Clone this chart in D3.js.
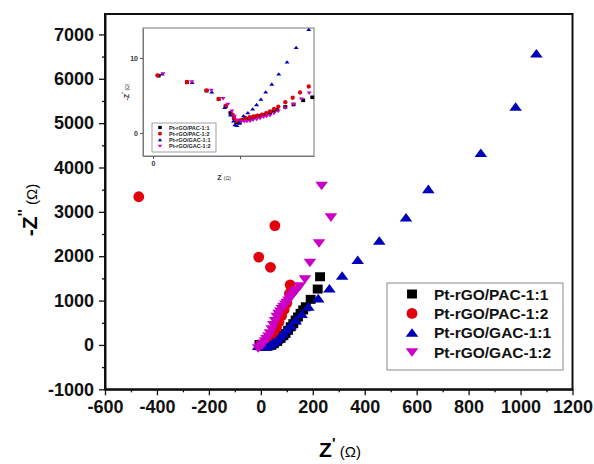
<!DOCTYPE html>
<html>
<head>
<meta charset="utf-8">
<script src="https://d3js.org/d3.v7.min.js"></script>
<style>
  body { margin: 0; background: #fff; }
  text { font-family: "Liberation Sans", Arial, sans-serif; }
</style>
</head>
<body>
<div id="chart"></div>
<script>
// ---- data (main plot, Z' / -Z'' in ohm) ----
var seriesNames = ["Pt-rGO/PAC-1:1", "Pt-rGO/PAC-1:2", "Pt-rGO/GAC-1:1", "Pt-rGO/GAC-1:2"];
var seriesColors = ["#000000", "#e2000c", "#0000b8", "#cc00c4"];
var seriesShapes = ["square", "circle", "up", "down"];

var pac11 = [[-5,10],[10,-20],[25,-30],[40,-10],[50,30],[63,80],[76,147],[87,210],[95,260],[105,330],[115,409],[125,480],[134,560],[143,630],[153,712],[163,790],[173,861],[192,1028],[219,1260],[228,1537]];
var pac12 = [[0,-10],[10,10],[20,50],[30,110],[40,190],[50,290],[60,400],[70,520],[80,660],[90,800],[100,940],[110,1160],[113,1355],[37,1750],[-8,1980],[54,2690],[-470,3340]];
var gac11 = [[-10,-20],[0,-30],[12,-40],[25,-30],[38,10],[50,60],[63,120],[75,190],[87,260],[100,350],[115,440],[134,560],[157,696],[183,861],[221,1050],[264,1275],[313,1560],[373,1913],[456,2348],[559,2875],[645,3513],[847,4328],[981,5368],[1061,6572]];
var gac12 = [[-10,-77],[-3,-40],[5,0],[10,30],[16,80],[22,130],[29,190],[35,261],[42,350],[48,450],[55,540],[61,636],[68,700],[75,750],[81,810],[87,861],[94,910],[100,950],[106,1000],[112,1050],[118,1100],[125,1140],[131,1190],[138,1237],[150,1320],[170,1478],[189,1853],[224,2290],[270,2875],[234,3588]];
var mainData = [pac11, pac12, gac11, gac12];

var xTicks = [-600, -400, -200, 0, 200, 400, 600, 800, 1000, 1200];
var yTicks = [-1000, 0, 1000, 2000, 3000, 4000, 5000, 6000, 7000];

// ---- data (inset, zoomed high-frequency region) ----
var inPac11 = [[1.3,7.64],[7.8,6.76],[12.3,5.64],[15.1,4.53],[16.7,3.56],[17.8,2.67],[18.6,2.0],[19.2,1.4],[20.0,1.5],[20.8,1.78],[21.5,1.9],[22.3,2.0],[23.1,2.1],[23.8,2.22],[24.6,2.3],[25.4,2.44],[26.2,2.6],[26.9,2.76],[27.7,2.9],[28.5,3.1],[30.4,3.47],[32.3,3.8],[34.5,4.36],[36.6,4.76]];
var inPac12 = [[1.0,7.69],[7.8,6.8],[12.3,5.69],[15.1,4.53],[16.7,3.6],[18.3,2.44],[18.6,2.0],[19.2,1.6],[20.2,1.7],[21.2,2.0],[22.2,2.1],[23.1,2.22],[24.0,2.3],[25.0,2.44],[26.0,2.65],[26.9,2.89],[27.8,3.2],[28.8,3.5],[30.4,4.1],[32.1,4.7],[33.8,5.4],[35.8,6.2]];
var inGac11 = [[2.15,7.87],[9.0,6.76],[13.5,5.47],[16.5,3.4],[17.8,2.4],[18.5,1.6],[18.8,1.1],[19.3,1.0],[19.9,1.3],[20.8,2.3],[21.8,2.7],[22.9,3.2],[23.8,3.78],[24.8,4.5],[25.9,5.47],[27.3,6.53],[28.9,7.87],[30.8,9.47],[32.9,11.4],[35.8,13.8]];
var inGac12 = [[2.3,7.87],[8.9,6.8],[13.4,5.69],[16.1,4.58],[17.2,3.8],[18.1,2.9],[18.7,2.2],[19.4,1.7],[20.2,1.5],[21.0,1.5],[21.6,1.55],[22.3,1.56],[23.0,1.7],[23.8,1.8],[24.6,1.95],[25.4,2.1],[26.1,2.2],[26.9,2.3],[27.8,2.6],[28.8,2.9],[30.4,3.33],[32.3,3.8],[34.1,4.5],[35.9,5.3]];
var insetData = [inPac11, inPac12, inGac11, inGac12];
var inXTicks = [0, 20];
var inYTicks = [0, 10];

// ---- layout ----
var W = 594, H = 464;
var pL = 105, pR = 572.5, pT = 14, pB = 389.3;

var svg = d3.select("#chart").append("svg")
  .attr("width", W).attr("height", H);

var x = d3.scaleLinear().domain([-600, 1200]).range([pL, pR]);
var y = d3.scaleLinear().domain([-1000, 7460]).range([pB, pT]);

// marker path, centred on 0,0
function marker(shape, s) {
  if (shape == "square") return "M" + (-s*0.55) + "," + (-s*0.5) + "h" + (s*1.1) + "v" + s + "h" + (-s*1.1) + "Z";
  if (shape == "circle") return d3.symbol(d3.symbolCircle, Math.PI * Math.pow(s*0.6, 2))();
  if (shape == "up") return "M0," + (-s*0.5) + "L" + (s*0.7) + "," + (s*0.45) + "L" + (-s*0.7) + "," + (s*0.45) + "Z";
  return "M0," + (s*0.5) + "L" + (s*0.7) + "," + (-s*0.45) + "L" + (-s*0.7) + "," + (-s*0.45) + "Z";
}

var plain = function (d) { return String(d); };

// axes
svg.append("g")
  .attr("class", "main-axis")
  .attr("transform", "translate(0," + pB + ")")
  .call(d3.axisBottom(x).tickValues(xTicks).tickSize(6).tickSizeOuter(0).tickPadding(5).tickFormat(plain));
svg.append("g")
  .attr("transform", "translate(0," + pB + ")")
  .call(d3.axisBottom(x).tickValues(d3.range(-500, 1200, 200)).tickSize(3).tickFormat(""))
  .select(".domain").remove();

svg.append("g")
  .attr("class", "main-axis")
  .attr("transform", "translate(" + pL + ",0)")
  .call(d3.axisLeft(y).tickValues(yTicks).tickSize(6).tickSizeOuter(0).tickPadding(5).tickFormat(plain));
svg.append("g")
  .attr("transform", "translate(" + pL + ",0)")
  .call(d3.axisLeft(y).tickValues(d3.range(-500, 7100, 1000)).tickSize(3).tickFormat(""))
  .select(".domain").remove();

svg.selectAll(".main-axis .tick text")
  .style("font-size", "18px").style("font-weight", "bold").attr("fill", "#111");
svg.selectAll(".tick line").attr("stroke", "#111").attr("stroke-width", 1.3);

// frame
svg.append("rect")
  .attr("x", pL).attr("y", pT)
  .attr("width", pR - pL).attr("height", pB - pT)
  .attr("fill", "none").attr("stroke", "#111").attr("stroke-width", 2);
svg.selectAll(".main-axis .domain").attr("stroke", "#111").attr("stroke-width", 2);

// axis titles
var xl = svg.append("text").attr("x", 340).attr("y", 457).attr("text-anchor", "middle");
xl.append("tspan").text("Z").style("font-size", "21px").style("font-weight", "bold");
xl.append("tspan").text("'").attr("dy", -9).style("font-size", "15px").style("font-weight", "bold");
xl.append("tspan").text(" (Ω)").attr("dy", 9).style("font-size", "15px");

var yl = svg.append("text").attr("transform", "translate(37,210) rotate(-90)").attr("text-anchor", "middle");
yl.append("tspan").text("-Z").style("font-size", "21px").style("font-weight", "bold");
yl.append("tspan").text("''").attr("dy", -9).style("font-size", "15px").style("font-weight", "bold");
yl.append("tspan").text(" (Ω)").attr("dy", 9).style("font-size", "15px");

// inset
var iL = 143, iR = 314, iT = 28, iB = 156;
var ix = d3.scaleLinear().domain([-2.3, 37]).range([iL, iR]);
var iy = d3.scaleLinear().domain([-3.07, 14]).range([iB, iT]);
var inset = svg.append("g");
inset.append("rect").attr("x", iL).attr("y", iT).attr("width", iR - iL).attr("height", iB - iT)
  .attr("fill", "#fff").attr("stroke", "#777").attr("stroke-width", 1);
inset.append("g").attr("transform", "translate(0," + iB + ")")
  .call(d3.axisBottom(ix).tickValues(inXTicks).tickSize(3).tickSizeOuter(0).tickPadding(2)
    .tickFormat(function (d) { return d == 0 ? "0" : ""; }));
inset.append("g").attr("transform", "translate(" + iL + ",0)")
  .call(d3.axisLeft(iy).tickValues(inYTicks).tickSize(3).tickSizeOuter(0).tickPadding(2));
inset.selectAll(".domain").attr("stroke", "#777").attr("stroke-width", 1);
inset.selectAll(".tick line").attr("stroke", "#555").attr("stroke-width", 1);
inset.selectAll(".tick text").style("font-size", "7px").style("font-weight", "bold").attr("fill", "#333");

var ixl = inset.append("text").attr("x", 224).attr("y", 180).attr("text-anchor", "middle").attr("fill", "#333");
ixl.append("tspan").text("Z").style("font-size", "7px").style("font-weight", "bold");
ixl.append("tspan").text("'").attr("dy", -3).style("font-size", "5px");
ixl.append("tspan").text(" (Ω)").attr("dy", 3).style("font-size", "5px");
var iyl = inset.append("text").attr("transform", "translate(129,92) rotate(-90)").attr("text-anchor", "middle").attr("fill", "#333");
iyl.append("tspan").text("-Z").style("font-size", "7px").style("font-weight", "bold");
iyl.append("tspan").text("''").attr("dy", -3).style("font-size", "5px");
iyl.append("tspan").text(" (Ω)").attr("dy", 3).style("font-size", "5px");

insetData.forEach(function (pts, k) {
  inset.append("g").selectAll("path").data(pts).enter().append("path")
    .attr("d", marker(seriesShapes[k], 3.6))
    .attr("transform", function (d) { return "translate(" + ix(d[0]) + "," + iy(d[1]) + ")"; })
    .attr("fill", seriesColors[k]);
});

// inset legend
var ilg = inset.append("g");
ilg.append("rect").attr("x", 152).attr("y", 123).attr("width", 64).attr("height", 29)
  .attr("fill", "#fff").attr("stroke", "#888").attr("stroke-width", 0.8);
seriesNames.forEach(function (n, k) {
  var cy = 127.5 + k * 6.2;
  ilg.append("path").attr("d", marker(seriesShapes[k], 3.2))
    .attr("transform", "translate(160," + cy + ")").attr("fill", seriesColors[k]);
  ilg.append("text").attr("x", 169).attr("y", cy + 2).text(n)
    .style("font-size", "5.5px").style("font-weight", "bold").attr("fill", "#222");
});

// main series
mainData.forEach(function (pts, k) {
  svg.append("g").selectAll("path").data(pts).enter().append("path")
    .attr("d", marker(seriesShapes[k], 9))
    .attr("transform", function (d) { return "translate(" + x(d[0]) + "," + y(d[1]) + ")"; })
    .attr("fill", seriesColors[k]);
});

// legend
var lg = svg.append("g");
lg.append("rect").attr("x", 387).attr("y", 283).attr("width", 176).attr("height", 87)
  .attr("fill", "#fff").attr("stroke", "#888").attr("stroke-width", 1);
seriesNames.forEach(function (n, k) {
  var cy = 294 + k * 19.4;
  lg.append("path").attr("d", marker(seriesShapes[k], 9))
    .attr("transform", "translate(412," + cy + ")").attr("fill", seriesColors[k]);
  lg.append("text").attr("x", 434).attr("y", cy + 5.5).text(n)
    .style("font-size", "15.5px").style("font-weight", "bold").attr("fill", "#111");
});
</script>
</body>
</html>
